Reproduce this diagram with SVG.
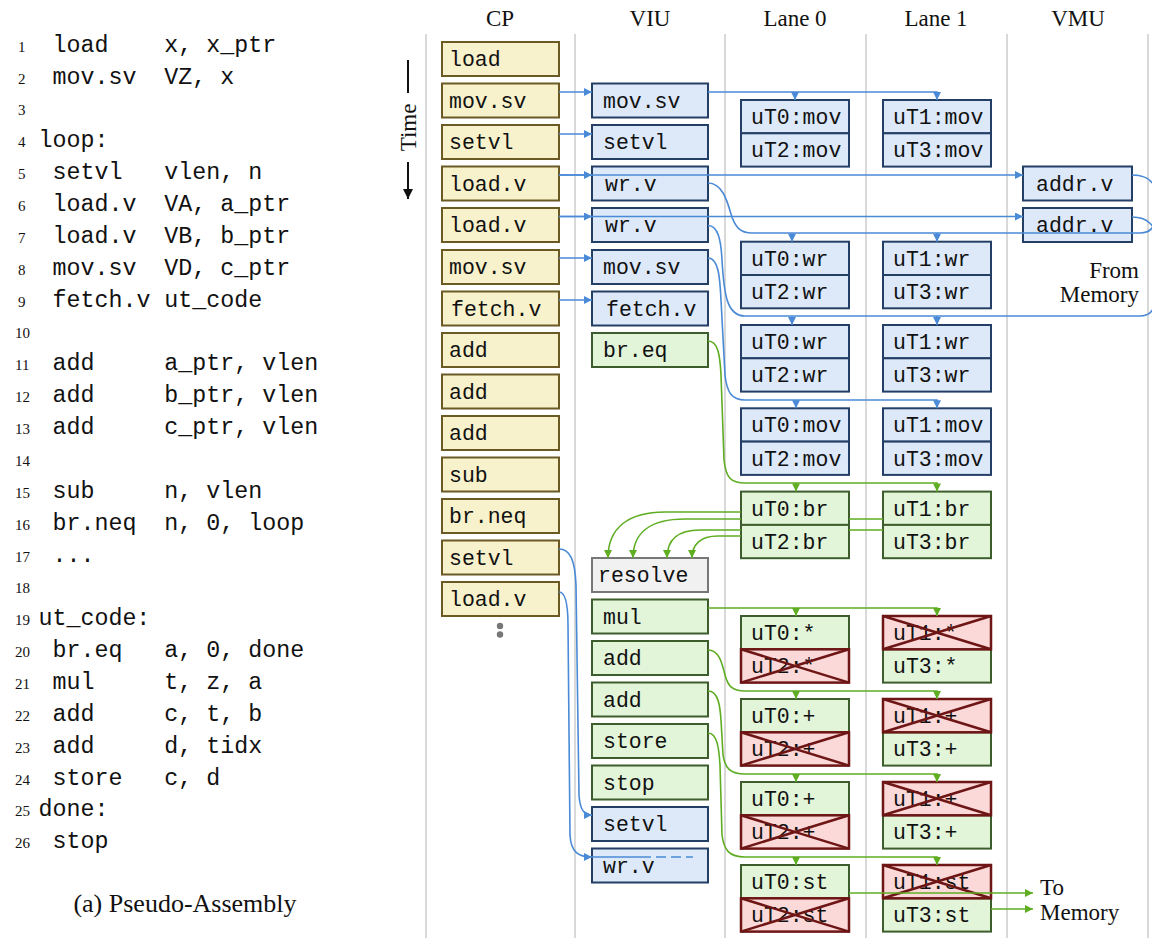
<svg xmlns="http://www.w3.org/2000/svg" width="1152" height="938" viewBox="0 0 1152 938">
<style>
.col{stroke:#cccccc;stroke-width:1.5}
.hdr{font-family:'Liberation Serif',serif;font-size:23px;text-anchor:middle;fill:#111}
.lbl{font-family:'Liberation Serif',serif;font-size:23px;fill:#111}
.cap{font-family:'Liberation Serif',serif;font-size:26px;fill:#111;text-anchor:middle}
.code{font-family:'Liberation Mono',monospace;font-size:23.3px;fill:#111;white-space:pre}
.ln{font-family:'Liberation Serif',serif;font-size:15px;fill:#111}
.bt{font-family:'Liberation Mono',monospace;font-size:21.5px;fill:#111}
.cp{fill:#f7f2cb;stroke:#6b5a24;stroke-width:2}
.bl{fill:#dde9f9;stroke:#243f66;stroke-width:2}
.gr{fill:#e2f5d9;stroke:#3d5e2c;stroke-width:2}
.rs{fill:#f1f1f1;stroke:#777777;stroke-width:2}
.x{fill:#fcd9d9;stroke:#6e1515;stroke-width:2.5}
.xl{stroke:#6e1515;stroke-width:2.5}
.cb{fill:none;stroke:#4a8ad6;stroke-width:1.6}
.cg{fill:none;stroke:#5fad22;stroke-width:1.6}
.ab{marker-end:url(#mb)}
.ag{marker-end:url(#mg)}
</style>
<defs>
<marker id="mb" viewBox="0 0 10 10" refX="10" refY="5" markerWidth="9" markerHeight="8" markerUnits="userSpaceOnUse" orient="auto"><path d="M0,0 L10,5 L0,10 z" fill="#4a8ad6"/></marker>
<marker id="mg" viewBox="0 0 10 10" refX="10" refY="5" markerWidth="9" markerHeight="8" markerUnits="userSpaceOnUse" orient="auto"><path d="M0,0 L10,5 L0,10 z" fill="#5fad22"/></marker>
<marker id="mk" viewBox="0 0 10 10" refX="10" refY="5" markerWidth="11" markerHeight="10" markerUnits="userSpaceOnUse" orient="auto"><path d="M0,0 L10,5 L0,10 z" fill="#111"/></marker>
</defs>
<rect width="1152" height="938" fill="#ffffff"/>

<!-- code listing -->
<g id="listing" xml:space="preserve">
<text class="ln" x="18" y="51.7">1</text><text class="code" x="52.5" y="51.7">load    x, x_ptr</text>
<text class="ln" x="18" y="83.6">2</text><text class="code" x="52.5" y="83.6">mov.sv  VZ, x</text>
<text class="ln" x="18" y="115.4">3</text>
<text class="ln" x="18" y="147.3">4</text><text class="code" x="38.5" y="147.3">loop:</text>
<text class="ln" x="18" y="179.1">5</text><text class="code" x="52.5" y="179.1">setvl   vlen, n</text>
<text class="ln" x="18" y="211">6</text><text class="code" x="52.5" y="211">load.v  VA, a_ptr</text>
<text class="ln" x="18" y="242.9">7</text><text class="code" x="52.5" y="242.9">load.v  VB, b_ptr</text>
<text class="ln" x="18" y="274.7">8</text><text class="code" x="52.5" y="274.7">mov.sv  VD, c_ptr</text>
<text class="ln" x="18" y="306.6">9</text><text class="code" x="52.5" y="306.6">fetch.v ut_code</text>
<text class="ln" x="15" y="338.4">10</text>
<text class="ln" x="15" y="370.3">11</text><text class="code" x="52.5" y="370.3">add     a_ptr, vlen</text>
<text class="ln" x="15" y="402.2">12</text><text class="code" x="52.5" y="402.2">add     b_ptr, vlen</text>
<text class="ln" x="15" y="434">13</text><text class="code" x="52.5" y="434">add     c_ptr, vlen</text>
<text class="ln" x="15" y="465.9">14</text>
<text class="ln" x="15" y="497.7">15</text><text class="code" x="52.5" y="497.7">sub     n, vlen</text>
<text class="ln" x="15" y="529.6">16</text><text class="code" x="52.5" y="529.6">br.neq  n, 0, loop</text>
<text class="ln" x="15" y="561.5">17</text><text class="code" x="52.5" y="561.5">...</text>
<text class="ln" x="15" y="593.3">18</text>
<text class="ln" x="15" y="625.2">19</text><text class="code" x="38.5" y="625.2">ut_code:</text>
<text class="ln" x="15" y="657">20</text><text class="code" x="52.5" y="657">br.eq   a, 0, done</text>
<text class="ln" x="15" y="688.9">21</text><text class="code" x="52.5" y="688.9">mul     t, z, a</text>
<text class="ln" x="15" y="720.8">22</text><text class="code" x="52.5" y="720.8">add     c, t, b</text>
<text class="ln" x="15" y="752.6">23</text><text class="code" x="52.5" y="752.6">add     d, tidx</text>
<text class="ln" x="15" y="784.5">24</text><text class="code" x="52.5" y="784.5">store   c, d</text>
<text class="ln" x="15" y="816.3">25</text><text class="code" x="38.5" y="816.3">done:</text>
<text class="ln" x="15" y="848.2">26</text><text class="code" x="52.5" y="848.2">stop</text>
<text class="cap" x="185" y="912">(a) Pseudo-Assembly</text>
</g>

<!-- columns -->
<g id="columns">
<line class="col" x1="426" y1="34" x2="426" y2="938"/>
<line class="col" x1="575" y1="34" x2="575" y2="938"/>
<line class="col" x1="725" y1="34" x2="725" y2="938"/>
<line class="col" x1="866" y1="34" x2="866" y2="938"/>
<line class="col" x1="1007" y1="34" x2="1007" y2="938"/>
<line class="col" x1="1148" y1="34" x2="1148" y2="938"/>
<text class="hdr" x="500" y="26">CP</text>
<text class="hdr" x="650" y="26">VIU</text>
<text class="hdr" x="795" y="26">Lane 0</text>
<text class="hdr" x="936" y="26">Lane 1</text>
<text class="hdr" x="1078" y="26">VMU</text>
</g>

<!-- time axis -->
<g id="time">
<line x1="408" y1="60" x2="408" y2="93" stroke="#111" stroke-width="2"/>
<text class="lbl" transform="translate(416,127.5) rotate(-90)" text-anchor="middle">Time</text>
<line x1="408" y1="162" x2="408" y2="199" stroke="#111" stroke-width="2" marker-end="url(#mk)"/>
</g>

<!-- CP nodes -->
<g id="cp-load"><rect class="cp" x="442" y="42" width="117" height="34"/><text class="bt" x="449" y="66">load</text></g>
<g id="cp-movsv1"><rect class="cp" x="442" y="83.5" width="117" height="34"/><text class="bt" x="449" y="107.5">mov.sv</text></g>
<g id="cp-setvl1"><rect class="cp" x="442" y="125" width="117" height="34"/><text class="bt" x="449" y="149">setvl</text></g>
<g id="cp-loadv1"><rect class="cp" x="442" y="166.5" width="117" height="34"/><text class="bt" x="449" y="190.5">load.v</text></g>
<g id="cp-loadv2"><rect class="cp" x="442" y="208" width="117" height="34"/><text class="bt" x="449" y="232">load.v</text></g>
<g id="cp-movsv2"><rect class="cp" x="442" y="250" width="117" height="34"/><text class="bt" x="449" y="274">mov.sv</text></g>
<g id="cp-fetchv"><rect class="cp" x="442" y="291.5" width="117" height="34"/><text class="bt" x="451" y="315.5">fetch.v</text></g>
<g id="cp-add1"><rect class="cp" x="442" y="333" width="117" height="34"/><text class="bt" x="449" y="357">add</text></g>
<g id="cp-add2"><rect class="cp" x="442" y="374.5" width="117" height="34"/><text class="bt" x="449" y="398.5">add</text></g>
<g id="cp-add3"><rect class="cp" x="442" y="416" width="117" height="34"/><text class="bt" x="449" y="440">add</text></g>
<g id="cp-sub"><rect class="cp" x="442" y="457.5" width="117" height="34"/><text class="bt" x="449" y="481.5">sub</text></g>
<g id="cp-brneq"><rect class="cp" x="442" y="499" width="117" height="34"/><text class="bt" x="449" y="523">br.neq</text></g>
<g id="cp-setvl2"><rect class="cp" x="442" y="540.5" width="117" height="34"/><text class="bt" x="449" y="564.5">setvl</text></g>
<g id="cp-loadv3"><rect class="cp" x="442" y="582" width="117" height="34"/><text class="bt" x="449" y="606">load.v</text></g>
<g id="cp-more"><circle cx="500" cy="626" r="3.2" fill="#777"/><circle cx="500" cy="634.5" r="3.2" fill="#777"/></g>

<!-- VIU nodes -->
<g id="viu-movsv1"><rect class="bl" x="592" y="83.5" width="116" height="34"/><text class="bt" x="603" y="107.5">mov.sv</text></g>
<g id="viu-setvl1"><rect class="bl" x="592" y="125" width="116" height="34"/><text class="bt" x="603" y="149">setvl</text></g>
<g id="viu-wrv1"><rect class="bl" x="592" y="166.5" width="116" height="34"/><text class="bt" x="605" y="190.5">wr.v</text></g>
<g id="viu-wrv2"><rect class="bl" x="592" y="208" width="116" height="34"/><text class="bt" x="605" y="232">wr.v</text></g>
<g id="viu-movsv2"><rect class="bl" x="592" y="250" width="116" height="34"/><text class="bt" x="603" y="274">mov.sv</text></g>
<g id="viu-fetchv"><rect class="bl" x="592" y="291.5" width="116" height="34"/><text class="bt" x="606" y="315.5">fetch.v</text></g>
<g id="viu-breq"><rect class="gr" x="592" y="333" width="116" height="34"/><text class="bt" x="603" y="357">br.eq</text></g>
<g id="viu-resolve"><rect class="rs" x="592" y="558" width="116" height="34"/><text class="bt" x="598" y="582">resolve</text></g>
<g id="viu-mul"><rect class="gr" x="592" y="599.5" width="116" height="34"/><text class="bt" x="603" y="623.5">mul</text></g>
<g id="viu-add1"><rect class="gr" x="592" y="641" width="116" height="34"/><text class="bt" x="603" y="665">add</text></g>
<g id="viu-add2"><rect class="gr" x="592" y="682.5" width="116" height="34"/><text class="bt" x="603" y="706.5">add</text></g>
<g id="viu-store"><rect class="gr" x="592" y="724" width="116" height="34"/><text class="bt" x="603" y="748">store</text></g>
<g id="viu-stop"><rect class="gr" x="592" y="765.5" width="116" height="34"/><text class="bt" x="603" y="789.5">stop</text></g>
<g id="viu-setvl2"><rect class="bl" x="592" y="807" width="116" height="34"/><text class="bt" x="603" y="831">setvl</text></g>
<g id="viu-wrv3"><rect class="bl" x="592" y="848.5" width="116" height="34"/><text class="bt" x="603" y="872.5">wr.v</text></g>

<!-- VMU nodes -->
<g id="vmu-addrv1"><rect class="bl" x="1023" y="166.5" width="109" height="34"/><text class="bt" x="1036" y="190.5">addr.v</text></g>
<g id="vmu-addrv2"><rect class="bl" x="1023" y="208" width="109" height="34"/><text class="bt" x="1036" y="232">addr.v</text></g>
<g id="from-memory"><text class="lbl" x="1139" y="278" text-anchor="end">From</text><text class="lbl" x="1139" y="302" text-anchor="end">Memory</text></g>

<!-- Lane nodes -->
<g id="l0-mov1"><rect class="bl" x="741" y="100" width="108" height="33.3"/><text class="bt" x="751" y="124">uT0:mov</text><rect class="bl" x="741" y="133.3" width="108" height="33.3"/><text class="bt" x="751" y="157.3">uT2:mov</text></g>
<g id="l1-mov1"><rect class="bl" x="883" y="100" width="108" height="33.3"/><text class="bt" x="893" y="124">uT1:mov</text><rect class="bl" x="883" y="133.3" width="108" height="33.3"/><text class="bt" x="893" y="157.3">uT3:mov</text></g>

<g id="l0-wr1"><rect class="bl" x="741" y="241.7" width="108" height="33.3"/><text class="bt" x="751" y="265.7">uT0:wr</text><rect class="bl" x="741" y="275" width="108" height="33.3"/><text class="bt" x="751" y="299">uT2:wr</text></g>
<g id="l1-wr1"><rect class="bl" x="883" y="241.7" width="108" height="33.3"/><text class="bt" x="893" y="265.7">uT1:wr</text><rect class="bl" x="883" y="275" width="108" height="33.3"/><text class="bt" x="893" y="299">uT3:wr</text></g>

<g id="l0-wr2"><rect class="bl" x="741" y="325" width="108" height="33.3"/><text class="bt" x="751" y="349">uT0:wr</text><rect class="bl" x="741" y="358.3" width="108" height="33.3"/><text class="bt" x="751" y="382.3">uT2:wr</text></g>
<g id="l1-wr2"><rect class="bl" x="883" y="325" width="108" height="33.3"/><text class="bt" x="893" y="349">uT1:wr</text><rect class="bl" x="883" y="358.3" width="108" height="33.3"/><text class="bt" x="893" y="382.3">uT3:wr</text></g>

<g id="l0-mov2"><rect class="bl" x="741" y="408.3" width="108" height="33.3"/><text class="bt" x="751" y="432.3">uT0:mov</text><rect class="bl" x="741" y="441.6" width="108" height="33.3"/><text class="bt" x="751" y="465.6">uT2:mov</text></g>
<g id="l1-mov2"><rect class="bl" x="883" y="408.3" width="108" height="33.3"/><text class="bt" x="893" y="432.3">uT1:mov</text><rect class="bl" x="883" y="441.6" width="108" height="33.3"/><text class="bt" x="893" y="465.6">uT3:mov</text></g>

<g id="l0-br"><rect class="gr" x="741" y="491.6" width="108" height="33.3"/><text class="bt" x="751" y="515.6">uT0:br</text><rect class="gr" x="741" y="524.9" width="108" height="33.3"/><text class="bt" x="751" y="548.9">uT2:br</text></g>
<g id="l1-br"><rect class="gr" x="883" y="491.6" width="108" height="33.3"/><text class="bt" x="893" y="515.6">uT1:br</text><rect class="gr" x="883" y="524.9" width="108" height="33.3"/><text class="bt" x="893" y="548.9">uT3:br</text></g>

<g id="l0-mul"><rect class="gr" x="741" y="616" width="108" height="33.3"/><text class="bt" x="751" y="640">uT0:*</text><rect class="x" x="741" y="649.3" width="108" height="33.3"/><text class="bt" x="751" y="673.3">uT2:*</text><line class="xl" x1="741" y1="649.3" x2="849" y2="682.6"/><line class="xl" x1="741" y1="682.6" x2="849" y2="649.3"/></g>
<g id="l1-mul"><rect class="gr" x="883" y="649.3" width="108" height="33.3"/><text class="bt" x="893" y="673.3">uT3:*</text><rect class="x" x="883" y="616" width="108" height="33.3"/><text class="bt" x="893" y="640">uT1:*</text><line class="xl" x1="883" y1="616" x2="991" y2="649.3"/><line class="xl" x1="883" y1="649.3" x2="991" y2="616"/></g>

<g id="l0-add1"><rect class="gr" x="741" y="699" width="108" height="33.3"/><text class="bt" x="751" y="723">uT0:+</text><rect class="x" x="741" y="732.3" width="108" height="33.3"/><text class="bt" x="751" y="756.3">uT2:+</text><line class="xl" x1="741" y1="732.3" x2="849" y2="765.6"/><line class="xl" x1="741" y1="765.6" x2="849" y2="732.3"/></g>
<g id="l1-add1"><rect class="gr" x="883" y="732.3" width="108" height="33.3"/><text class="bt" x="893" y="756.3">uT3:+</text><rect class="x" x="883" y="699" width="108" height="33.3"/><text class="bt" x="893" y="723">uT1:+</text><line class="xl" x1="883" y1="699" x2="991" y2="732.3"/><line class="xl" x1="883" y1="732.3" x2="991" y2="699"/></g>

<g id="l0-add2"><rect class="gr" x="741" y="782" width="108" height="33.3"/><text class="bt" x="751" y="806">uT0:+</text><rect class="x" x="741" y="815.3" width="108" height="33.3"/><text class="bt" x="751" y="839.3">uT2:+</text><line class="xl" x1="741" y1="815.3" x2="849" y2="848.6"/><line class="xl" x1="741" y1="848.6" x2="849" y2="815.3"/></g>
<g id="l1-add2"><rect class="gr" x="883" y="815.3" width="108" height="33.3"/><text class="bt" x="893" y="839.3">uT3:+</text><rect class="x" x="883" y="782" width="108" height="33.3"/><text class="bt" x="893" y="806">uT1:+</text><line class="xl" x1="883" y1="782" x2="991" y2="815.3"/><line class="xl" x1="883" y1="815.3" x2="991" y2="782"/></g>

<g id="l0-st"><rect class="gr" x="741" y="865" width="108" height="33.3"/><text class="bt" x="751" y="889">uT0:st</text><rect class="x" x="741" y="898.3" width="108" height="33.3"/><text class="bt" x="751" y="922.3">uT2:st</text><line class="xl" x1="741" y1="898.3" x2="849" y2="931.6"/><line class="xl" x1="741" y1="931.6" x2="849" y2="898.3"/></g>
<g id="l1-st"><rect class="gr" x="883" y="898.3" width="108" height="33.3"/><text class="bt" x="893" y="922.3">uT3:st</text><rect class="x" x="883" y="865" width="108" height="33.3"/><text class="bt" x="893" y="889">uT1:st</text><line class="xl" x1="883" y1="865" x2="991" y2="898.3"/><line class="xl" x1="883" y1="898.3" x2="991" y2="865"/></g>

<g id="to-memory"><text class="lbl" x="1040" y="895">To</text><text class="lbl" x="1040" y="920">Memory</text></g>

<!-- connectors -->
<g id="connectors">
<path class="cb ab" d="M559,92 H592"/>
<path class="cb ab" d="M708,92 H937 V100"/>
<path class="cb ab" d="M795,92 V100"/>
<path class="cb ab" d="M559,134 H592"/>
<path class="cb ab" d="M559,175 H1023"/>
<path class="cb ab" d="M559,175 H592"/>
<path class="cb ab" d="M559,216.5 H1023"/>
<path class="cb ab" d="M559,216.5 H592"/>
<path class="cb ab" d="M559,258 H592"/>
<path class="cb ab" d="M559,300 H592"/>
<path class="cb" d="M708,183 C722,183 727,200 731,214 C735,227 740,233 752,233 H1140 C1151,233 1156,226 1156,214 V196 C1156,183 1148,175 1132,175"/>
<path class="cb ab" d="M792,233 V241.7"/>
<path class="cb ab" d="M937,233 V241.7"/>
<path class="cb" d="M708,225.5 C718,225.5 721,240 722,260 C724,295 727,316 745,316 H1140 C1151,316 1156,308 1156,295 V240 C1156,226 1148,217 1132,217"/>
<path class="cb ab" d="M792,316 V325"/>
<path class="cb ab" d="M937,316 V325"/>
<path class="cb ab" d="M708,258 C719,258 720,280 721,300 L725,375 C727,393 732,400 745,400 H937 V408.3"/>
<path class="cb ab" d="M796,400 V408.3"/>
<path class="cb ab" d="M559,549 C570,549 575,560 576,585 L579,795 C580,810 584,815 592,815"/>
<path class="cb ab" d="M559,592 C566,592 568,605 568,625 L570,835 C571,852 578,857 592,857"/>
<path class="cb" d="M592,857 H651"/>
<path class="cb" d="M656,857 H693" stroke-dasharray="10,5"/>

<path class="cg ag" d="M708,341 C718,341 720,355 721,375 L724,460 C726,478 731,483 745,483 H937 V491.6"/>
<path class="cg ag" d="M796,483 V491.6"/>
<path class="cg ag" d="M741,512 H665 C628,512 608,528 608,558"/>
<path class="cg ag" d="M883,519 H849 M741,519 H685 C650,519 633,533 633,558"/>
<path class="cg ag" d="M883,530 H849 M741,530 H700 C678,530 667,540 667,558"/>
<path class="cg ag" d="M741,536 H718 C700,536 692,545 692,558"/>
<path class="cg ag" d="M708,608 H937 V616"/>
<path class="cg ag" d="M796,608 V616"/>
<path class="cg ag" d="M708,650 C719,650 722,663 725,675 C728,686 732,691 745,691 H937 V699"/>
<path class="cg ag" d="M796,691 V699"/>
<path class="cg ag" d="M708,691 C718,691 720,705 721,720 L723,755 C725,768 730,774 745,774 H937 V782"/>
<path class="cg ag" d="M796,774 V782"/>
<path class="cg ag" d="M708,733 C717,733 719,748 720,765 L722,835 C724,850 729,857 745,857 H937 V865"/>
<path class="cg ag" d="M796,857 V865"/>
<path class="cg ag" d="M849,893 H1033"/>
<path class="cg ag" d="M991,909 H1033"/>
</g>
</svg>
